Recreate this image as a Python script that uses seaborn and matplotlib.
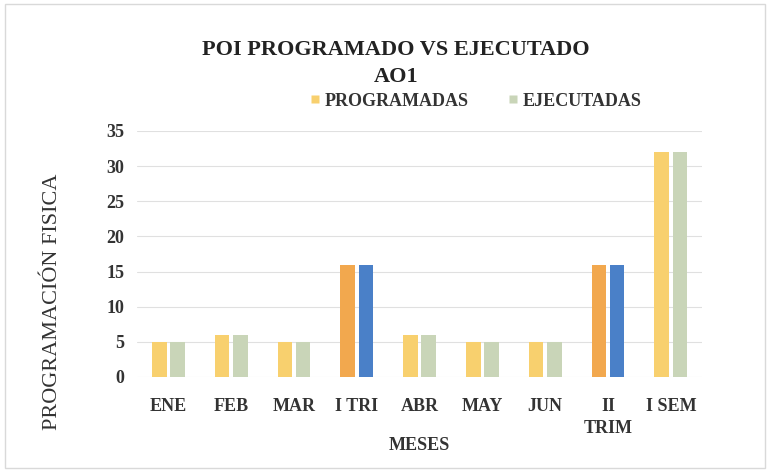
import matplotlib
matplotlib.use("Agg")
import matplotlib.pyplot as plt
import seaborn as sns
import pandas as pd
from matplotlib.patches import Rectangle
from matplotlib.lines import Line2D

meses = ["ENE", "FEB", "MAR", "I TRI", "ABR", "MAY", "JUN", "II\nTRIM", "I SEM"]
programadas = [5, 6, 5, 16, 6, 5, 5, 16, 32]
ejecutadas = [5, 6, 5, 16, 6, 5, 5, 16, 32]
series = ["PROGRAMADAS", "EJECUTADAS"]
trimestres = ["I TRI", "II\nTRIM"]

YELLOW = "#F8D06E"
GREEN = "#C9D5B8"
ORANGE = "#F2A84E"
BLUE = "#4A80C8"

df = pd.DataFrame({
    "mes": meses * 2,
    "serie": [series[0]] * len(meses) + [series[1]] * len(meses),
    "valor": programadas + ejecutadas,
})

sns.set_theme(style="white")
plt.rcParams["font.family"] = ["Liberation Serif", "DejaVu Serif"]
plt.rcParams["font.weight"] = "bold"

fig = plt.figure(figsize=(7.7, 4.72), dpi=100)
ax = fig.add_axes([0.178, 0.2013, 0.734, 0.5212])

sns.barplot(data=df, x="mes", y="valor", hue="serie", order=meses,
            hue_order=series, palette=[YELLOW, GREEN], width=0.58, gap=0.2,
            legend=False, ax=ax, saturation=1)

for j, cont in enumerate(ax.containers):
    for i, bar in enumerate(cont):
        if meses[i] in trimestres:
            bar.set_facecolor(ORANGE if j == 0 else BLUE)
        bar.set_edgecolor("none")

ax.set_ylim(0, 35)
ax.set_yticks(range(0, 36, 5))
ax.grid(axis="y", color="#e0e0e0", linewidth=0.8)
ax.set_axisbelow(True)
for s in ax.spines.values():
    s.set_visible(False)
ax.tick_params(axis="both", length=0, labelsize=13, colors="#333333")
ax.tick_params(axis="y", pad=9)
ax.tick_params(axis="x", pad=15)
for lab in ax.get_xticklabels() + ax.get_yticklabels():
    lab.set_fontweight("bold")
for lab in ax.get_xticklabels():
    lab.set_linespacing(1.4)
ax.set_xlabel("MESES", fontsize=13, fontweight="bold", color="#333333")
ax.xaxis.set_label_coords(0.5, (1 - 445 / 472 - 0.2013) / 0.5212)
ax.set_ylabel("PROGRAMACIÓN FISICA", fontsize=16, fontweight="normal", color="#333333")
ax.yaxis.set_label_coords((52 / 770 - 0.178) / 0.734, (1 - 302 / 472 - 0.2013) / 0.5212)
ax.yaxis.label.set_va("center")
ax.xaxis.label.set_va("center")

fig.text(0.514, 1 - 50 / 472, "POI PROGRAMADO VS EJECUTADO", ha="center", va="center",
         fontsize=16, fontweight="bold", color="#222222")
fig.text(0.515, 1 - 77 / 472, "AO1", ha="center", va="center",
         fontsize=16, fontweight="bold", color="#222222")

handles = [Line2D([], [], marker="s", linestyle="none", markersize=6,
                  markerfacecolor=c, markeredgecolor="none") for c in (YELLOW, GREEN)]
fig.legend(handles, series, loc="center", bbox_to_anchor=(476 / 770, 1 - 101 / 472),
           ncol=2, frameon=False, prop={"size": 13, "weight": "bold"},
           handlelength=0.5, handletextpad=0.3, columnspacing=2.2, labelcolor="#333333")

fig.patches.append(Rectangle((0.006, 0.008), 0.988, 0.984, transform=fig.transFigure,
                             fill=False, edgecolor="#d9d9d9", linewidth=1))

fig.savefig("out.png", dpi=100)
